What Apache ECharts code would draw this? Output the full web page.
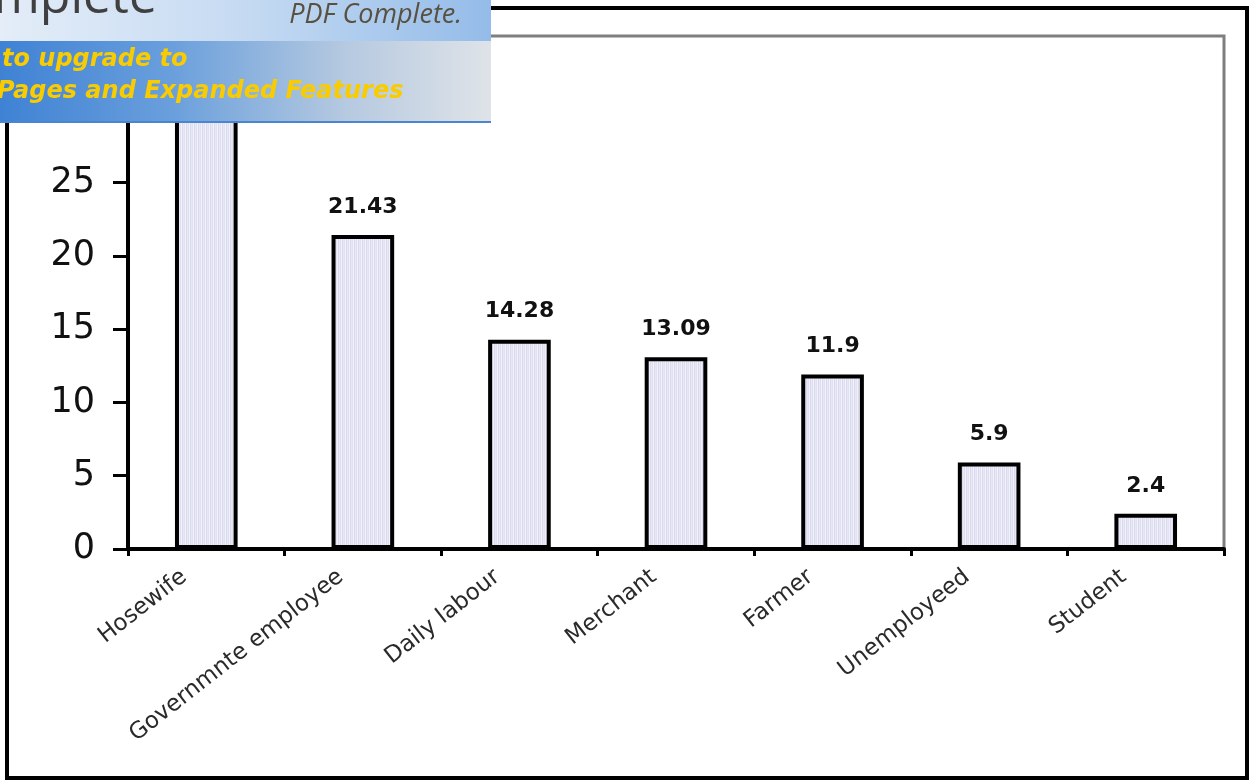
<!DOCTYPE html>
<html>
<head>
<meta charset="utf-8">
<script src="https://cdn.jsdelivr.net/npm/echarts@6/dist/echarts.min.js"></script>
<style>
  html, body { margin: 0; padding: 0; background: #fff; }
  #main { width: 1253px; height: 781px; }
</style>
</head>
<body>
<div id="main"></div>
<script>
// occupations and percentages
const categories = ['Hosewife', 'Governmnte employee', 'Daily labour', 'Merchant', 'Farmer', 'Unemployeed', 'Student']
const percent = [31, 21.43, 14.28, 13.09, 11.9, 5.9, 2.4]
const yTicks = [0, 5, 10, 15, 20, 25, 30, 35]

// light lavender vertical stripes for the bar fill
function stripes () {
  const c = document.createElement('canvas')
  c.width = 8
  c.height = 4
  const ctx = c.getContext('2d')
  const cols = ['#e2e2f3', '#f0f0f8', '#d9d9ef', '#eaeaf6', '#dedef2', '#f2f2f9', '#dbdbf0', '#e8e8f5']
  cols.forEach((col, i) => {
    ctx.fillStyle = col
    ctx.fillRect(i, 0, 1, 4)
  })
  return c
}

const myChart = echarts.init(document.getElementById('main'))
const font = 'DejaVu Sans, Liberation Sans, sans-serif'
const option = {
  backgroundColor: '#fff',
  animation: false,
  grid: {
    left: 128,
    right: 29,
    top: 36,
    bottom: 232,
    show: true,
    borderColor: '#7f7f7f',
    borderWidth: 3
  },
  xAxis: {
    type: 'category',
    data: categories,
    axisLine: { lineStyle: { color: '#000', width: 4 } },
    axisTick: { show: true, inside: false, length: 7, lineStyle: { color: '#000', width: 3 } },
    axisLabel: {
      rotate: 38,
      margin: 8,
      padding: [0, 28, 0, 0],
      fontFamily: font,
      fontSize: 23,
      color: '#2a2a2a',
      interval: 0
    }
  },
  yAxis: {
    type: 'value',
    min: yTicks[0],
    max: yTicks[yTicks.length - 1],
    interval: 5,
    splitLine: { show: false },
    axisLine: { show: true, lineStyle: { color: '#000', width: 4 } },
    axisTick: { show: true, length: 15, lineStyle: { color: '#000', width: 3 } },
    axisLabel: {
      margin: 33,
      fontFamily: font,
      fontSize: 35,
      color: '#111'
    }
  },
  series: [{
    type: 'bar',
    data: percent,
    barWidth: '40%',
    itemStyle: {
      color: { image: stripes(), repeat: 'repeat' },
      borderColor: '#000',
      borderWidth: 4
    },
    label: {
      show: true,
      position: 'top',
      distance: 17,
      fontFamily: font,
      fontSize: 22,
      fontWeight: 'bold',
      color: '#111'
    }
  }],
  graphic: [
    // outer black frame
    {
      type: 'rect',
      z: 50,
      shape: { x: 7, y: 8, width: 1240, height: 770 },
      style: { fill: 'none', stroke: '#000', lineWidth: 4 }
    },
    // PDF watermark banner
    {
      type: 'rect',
      z: 100,
      shape: { x: 0, y: 0, width: 491, height: 41 },
      style: {
        fill: new echarts.graphic.LinearGradient(0, 0, 1, 0, [
          { offset: 0, color: '#e4edf8' },
          { offset: 0.5, color: '#c5daf2' },
          { offset: 1, color: '#94bce9' }
        ])
      }
    },
    {
      type: 'rect',
      z: 100,
      shape: { x: 0, y: 41, width: 491, height: 81 },
      style: {
        fill: new echarts.graphic.LinearGradient(0, 0, 1, 0, [
          { offset: 0, color: '#3f82d4' },
          { offset: 0.35, color: '#6a9fdc' },
          { offset: 0.7, color: '#b5c9e0' },
          { offset: 1, color: '#dfe3e8' }
        ])
      }
    },
    {
      type: 'rect',
      z: 100,
      shape: { x: 0, y: 121, width: 491, height: 2 },
      style: { fill: '#4a86d0' }
    },
    {
      type: 'text',
      z: 101,
      x: 157,
      y: -1,
      style: {
        text: 'Complete',
        align: 'right',
        verticalAlign: 'middle',
        font: '50px "Open Sans", "DejaVu Sans", sans-serif',
        fill: '#404040'
      }
    },
    {
      type: 'text',
      z: 101,
      x: 462,
      y: 15,
      style: {
        text: 'PDF Complete.',
        align: 'right',
        verticalAlign: 'middle',
        font: 'italic 27px "Open Sans", "Noto Sans", sans-serif',
        fill: '#5a5040'
      }
    },
    {
      type: 'text',
      z: 101,
      x: 2,
      y: 60,
      style: {
        text: 'to upgrade to',
        align: 'left',
        verticalAlign: 'middle',
        font: 'italic bold 24px "DejaVu Sans", sans-serif',
        fill: '#f8cc00'
      }
    },
    {
      type: 'text',
      z: 101,
      x: -3,
      y: 92,
      style: {
        text: 'Pages and Expanded Features',
        align: 'left',
        verticalAlign: 'middle',
        font: 'italic bold 24px "DejaVu Sans", sans-serif',
        fill: '#f8cc00'
      }
    }
  ]
}
myChart.setOption(option)
window.addEventListener('resize', function () {
  myChart.resize()
})
</script>
</body>
</html>
